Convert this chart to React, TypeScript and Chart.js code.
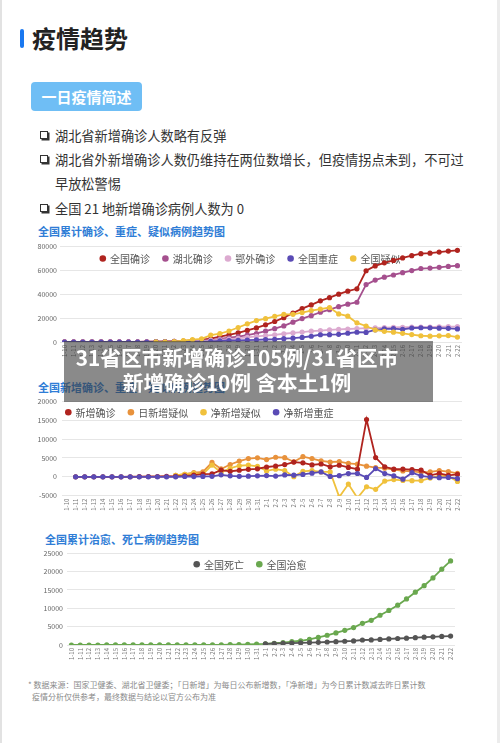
import React, { useEffect, useRef } from 'react';
import { Chart, registerables } from 'chart.js';

Chart.register(...registerables);

const FONT = '"Noto Sans CJK SC", "Noto Sans", sans-serif';

// ---------- data ----------
const dates = [
  '1-10', '1-11', '1-12', '1-13', '1-14', '1-15', '1-16', '1-17', '1-18', '1-19', '1-20',
  '1-21', '1-22', '1-23', '1-24', '1-25', '1-26', '1-27', '1-28', '1-29', '1-30', '1-31',
  '2-1', '2-2', '2-3', '2-4', '2-5', '2-6', '2-7', '2-8', '2-9', '2-10', '2-11',
  '2-12', '2-13', '2-14', '2-15', '2-16', '2-17', '2-18', '2-19', '2-20', '2-21', '2-22',
];

// chart 1: cumulative
const totalConfirmed = [
  41, 41, 41, 41, 41, 41, 45, 62, 121, 198, 291,
  440, 571, 830, 1287, 1975, 2744, 4515, 5974, 7711, 9692, 11791,
  14380, 17205, 20438, 24324, 28018, 31161, 34546, 37198, 40171, 42638, 44653,
  59804, 63851, 66492, 68500, 70548, 72436, 74185, 74576, 75465, 76288, 76936,
];
const hubeiConfirmed = [
  41, 41, 41, 41, 41, 41, 45, 62, 121, 198, 270,
  375, 444, 549, 729, 1052, 1423, 2714, 3554, 4586, 5806, 7153,
  9074, 11177, 13522, 16678, 19665, 22112, 24953, 27100, 29631, 31728, 33366,
  48206, 51986, 54406, 56249, 58182, 59989, 61682, 62031, 62662, 63454, 64084,
];
const outsideHubeiConfirmed = [
  0, 0, 0, 0, 0, 0, 0, 0, 0, 0, 21,
  65, 127, 281, 558, 923, 1321, 1801, 2420, 3125, 3886, 4638,
  5306, 6028, 6916, 7646, 8353, 9049, 9593, 10098, 10540, 10910, 11287,
  11598, 11865, 12086, 12251, 12366, 12447, 12503, 12545, 12803, 12834, 12852,
];
const totalSevere = [
  0, 0, 0, 0, 0, 0, 0, 0, 0, 0, 35,
  63, 95, 177, 237, 324, 461, 976, 1239, 1370, 1527, 1795,
  2110, 2296, 2788, 3219, 3859, 4821, 6101, 6188, 6484, 7333, 8204,
  8030, 10204, 11053, 11272, 10644, 11741, 11977, 11864, 11633, 11477, 10968,
];
const totalSuspected = [
  null, null, null, null, null, null, null, null, null, null, 54,
  37, 393, 1072, 1965, 2684, 5794, 6973, 9239, 12167, 15238, 17988,
  19544, 21558, 23214, 23260, 24702, 26359, 27657, 28942, 23589, 21675, 16067,
  13435, 10109, 8969, 8228, 7264, 6242, 5248, 4922, 5206, 5365, 4148,
];

// chart 2: daily
const newConfirmed = [
  null, 0, 0, 0, 0, 0, 4, 17, 59, 77, 77,
  149, 131, 259, 444, 688, 769, 1771, 1459, 1737, 1982, 2102,
  2590, 2829, 3235, 3887, 3694, 3143, 3385, 2652, 3062, 2478, 2015,
  15152, 5090, 2641, 2009, 2048, 1886, 1749, 394, 889, 397, 648,
];
const newSuspectedDaily = [
  null, null, null, null, null, null, null, null, null, null, null,
  null, 393, 680, 1118, 1309, 3806, 2077, 3248, 4148, 4812, 5019,
  4562, 5173, 5072, 3971, 5328, 4833, 4214, 3916, 4008, 3536, 3342,
  2807, 2450, 2277, 1918, 1563, 1432, 1185, 1277, 1614, 1361, 882,
];
const netSuspected = [
  null, null, null, null, null, null, null, null, null, null, null,
  null, 356, 679, 893, 719, 3110, 1179, 2266, 2928, 3071, 2750,
  1556, 2014, 1656, 46, 1442, 1657, 1298, 1285, -5353, -1914, -5608,
  -2632, -3326, -1140, -741, -964, -1022, -994, -326, 284, 159, -1217,
];
const netSevere = [
  null, 0, 0, 0, 0, 0, 0, 0, 0, 0, 0,
  0, 0, 82, 60, 87, 137, 515, 263, 131, 157, 268,
  315, 186, 492, 431, 640, 962, 1280, 87, 296, 849, 871,
  -174, 2174, 849, 219, -628, 1097, 236, -113, -231, -156, -509,
];

// chart 3: cured / deaths
const totalDeaths = [
  null, null, null, null, null, null, null, null, null, null, null,
  null, null, null, null, null, null, null, null, null, null, null,
  304, 361, 425, 490, 563, 636, 722, 811, 908, 1016, 1113,
  1367, 1380, 1523, 1665, 1770, 1868, 2004, 2118, 2236, 2345, 2442,
];
const totalCured = [
  2, 3, 6, 6, 7, 12, 15, 19, 24, 25, 25,
  28, 28, 34, 38, 49, 51, 60, 103, 124, 171, 243,
  328, 475, 632, 892, 1153, 1540, 2050, 2649, 3281, 3996, 4740,
  5911, 6723, 8096, 9419, 10844, 12552, 14376, 16155, 18264, 20659, 22888,
];

const bullets = [
  '湖北省新增确诊人数略有反弹',
  '湖北省外新增确诊人数仍维持在两位数增长，但疫情拐点未到，不可过',
  '早放松警惕',
  '全国 21 地新增确诊病例人数为 0',
];

// ---------- legend plugin (drawn inside the plot area) ----------
const dotLegend = {
  id: 'dotLegend',
  beforeDatasetsDraw(chart: any, _args: any, opts: any) {
    if (!opts || !opts.show) return;
    const ctx = chart.ctx;
    ctx.save();
    ctx.font = `${opts.fontSize}px ${FONT}`;
    const r = opts.radius;
    const items = chart.data.datasets.map((ds: any) => ({ label: ds.label, color: ds.borderColor }));
    const widths = items.map((it: any) => 2 * r + opts.textGap + ctx.measureText(it.label).width);
    const total = widths.reduce((a: number, b: number) => a + b, 0) + opts.itemGap * (items.length - 1);
    let x = opts.align === 'center' ? opts.centerX - total / 2 : opts.startX;
    items.forEach((it: any, i: number) => {
      ctx.fillStyle = it.color;
      ctx.beginPath();
      ctx.arc(x + r, opts.y, r, 0, Math.PI * 2);
      ctx.fill();
      ctx.fillStyle = opts.color;
      ctx.textAlign = 'left';
      ctx.textBaseline = 'middle';
      ctx.fillText(it.label, x + 2 * r + opts.textGap, opts.y + 0.5);
      x += widths[i] + opts.itemGap;
    });
    ctx.restore();
  },
};

function line(label: string, data: any[], color: string, order: number) {
  return {
    label,
    data,
    borderColor: color,
    backgroundColor: color,
    pointBackgroundColor: color,
    pointBorderColor: color,
    pointRadius: 1.7,
    pointHoverRadius: 1.7,
    borderWidth: 1.8,
    tension: 0,
    spanGaps: false,
    order,
  };
}

type Cfg = {
  datasets: any[];
  min: number;
  max: number;
  step: number;
  yWidth: number;
  yPad: number;
  xHeight: number;
  padTop: number;
  padRight: number;
  legend: any;
};

function makeConfig(c: Cfg): any {
  return {
    type: 'line',
    data: { labels: dates, datasets: c.datasets },
    plugins: [dotLegend],
    options: {
      responsive: false,
      animation: false,
      events: [],
      layout: { padding: { top: c.padTop, right: c.padRight, left: 0, bottom: 0 } },
      plugins: {
        legend: { display: false },
        tooltip: { enabled: false },
        dotLegend: c.legend,
      },
      scales: {
        x: {
          offset: true,
          grid: { display: false, drawTicks: false },
          border: { display: false },
          ticks: {
            autoSkip: false,
            minRotation: 90,
            maxRotation: 90,
            padding: 3,
            color: '#777',
            font: { size: 6, family: FONT },
          },
          afterFit: (s: any) => { s.height = c.xHeight; },
        },
        y: {
          min: c.min,
          max: c.max,
          grid: { color: '#e6e6e6', lineWidth: 1, drawTicks: false },
          border: { display: false },
          ticks: {
            stepSize: c.step,
            padding: c.yPad,
            color: '#666',
            font: { size: 7, family: FONT },
            callback: (v: any) => String(v),
          },
          afterFit: (s: any) => { s.width = c.yWidth; },
        },
      },
    },
  };
}

function ChartCanvas(props: { left: number; top: number; width: number; height: number; cfg: Cfg }) {
  const ref = useRef<HTMLCanvasElement | null>(null);
  useEffect(() => {
    if (!ref.current) return;
    const chart = new Chart(ref.current, makeConfig(props.cfg));
    return () => chart.destroy();
  }, []);
  return (
    <canvas
      ref={ref}
      width={props.width}
      height={props.height}
      style={{ position: 'absolute', left: props.left, top: props.top, width: props.width, height: props.height }}
    />
  );
}

const legendBase = { show: true, fontSize: 10, radius: 3.3, textGap: 4, itemGap: 12, color: '#555' };

const chart1: Cfg = {
  datasets: [
    line('全国确诊', totalConfirmed, '#b0241f', 4),
    line('湖北确诊', hubeiConfirmed, '#a5508e', 3),
    line('鄂外确诊', outsideHubeiConfirmed, '#dcaad0', 2),
    line('全国重症', totalSevere, '#5a4bb5', 1),
    line('全国疑似', totalSuspected, '#f0c13c', 0),
  ],
  min: 0, max: 80000, step: 20000,
  yWidth: 40, yPad: 3, xHeight: 23, padTop: 8.7, padRight: 10,
  legend: { ...legendBase, align: 'center', centerX: 230, y: 20.5 },
};

const chart2: Cfg = {
  datasets: [
    line('新增确诊', newConfirmed, '#b0241f', 1),
    line('日新增疑似', newSuspectedDaily, '#e8923c', 3),
    line('净新增疑似', netSuspected, '#f0c13c', 2),
    line('净新增重症', netSevere, '#5a4bb5', 0),
  ],
  min: -5000, max: 20000, step: 5000,
  yWidth: 42, yPad: 5, xHeight: 24.3, padTop: 8.3, padRight: 10,
  legend: { ...legendBase, align: 'start', startX: 45, y: 20.3 },
};

const chart3: Cfg = {
  datasets: [
    line('全国死亡', totalDeaths, '#555555', 0),
    line('全国治愈', totalCured, '#6aa84f', 1),
  ],
  min: 0, max: 25000, step: 5000,
  yWidth: 47, yPad: 4, xHeight: 23, padTop: 7.7, padRight: 17,
  legend: { ...legendBase, align: 'center', centerX: 230, y: 19.3 },
};

const abs = (left: number, top: number, extra: any = {}) => ({ position: 'absolute' as const, left, top, ...extra });

function Checkbox({ top }: { top: number }) {
  return (
    <div
      style={abs(40, top, {
        width: 6,
        height: 6,
        border: '1px solid #333',
        boxShadow: '1.5px 1.5px 0 #333',
        background: '#fff',
      })}
    />
  );
}

export default function App() {
  const chartTitle = { fontSize: 11, fontWeight: 700, color: '#2f7dd6', lineHeight: '14px', whiteSpace: 'nowrap' as const };
  const bulletText = { fontSize: 13.2, color: '#333', lineHeight: '16px', whiteSpace: 'nowrap' as const };
  return (
    <div
      style={{
        position: 'absolute', left: 0, top: 0, width: 500, height: 743,
        background: '#fff', overflow: 'hidden', fontFamily: FONT,
      }}
    >
      <div style={abs(0, 0, { width: 2, height: 743, background: '#e2e2e2' })} />
      <div style={abs(497, 0, { width: 3, height: 743, background: '#ececec' })} />

      {/* heading */}
      <div style={abs(20, 29, { width: 4, height: 19, borderRadius: 2, background: '#1a78f0' })} />
      <div style={abs(32, 25.5, { fontSize: 24, fontWeight: 700, color: '#222', lineHeight: '24px' })}>疫情趋势</div>

      {/* pill */}
      <div
        style={abs(31, 82, {
          width: 111, height: 29, borderRadius: 4, background: '#6fbef5',
          color: '#fff', fontSize: 15, fontWeight: 700, lineHeight: '29px', textAlign: 'center',
        })}
      >
        一日疫情简述
      </div>

      {/* bullets */}
      <Checkbox top={131} />
      <div style={abs(55, 128, bulletText)}>{bullets[0]}</div>
      <Checkbox top={155} />
      <div style={abs(55, 152, bulletText)}>{bullets[1]}</div>
      <div style={abs(55, 176, bulletText)}>{bullets[2]}</div>
      <Checkbox top={204} />
      <div style={abs(55, 201, bulletText)}>{bullets[3]}</div>

      {/* chart titles */}
      <div style={abs(38, 224, chartTitle)}>全国累计确诊、重症、疑似病例趋势图</div>
      <div style={abs(38, 379.5, chartTitle)}>全国新增确诊、重症、疑似病例趋势图</div>
      <div style={abs(45, 532, chartTitle)}>全国累计治愈、死亡病例趋势图</div>

      <ChartCanvas left={20} top={238} width={452} height={127} cfg={chart1} />
      <ChartCanvas left={20} top={392} width={452} height={128} cfg={chart2} />
      <ChartCanvas left={20} top={545} width={452} height={123} cfg={chart3} />

      {/* banner */}
      <div style={abs(64, 341, { width: 369, height: 61, background: 'rgba(60,60,60,0.6)' })} />
      <div
        style={abs(64, 344.5, {
          width: 346, color: '#fff', fontSize: 20.8, fontWeight: 700, lineHeight: '25px',
          textAlign: 'center', whiteSpace: 'nowrap',
        })}
      >
        <div>31省区市新增确诊105例/31省区市</div>
        <div>新增确诊10例 含本土1例</div>
      </div>

      {/* footnote */}
      <div style={abs(28, 679, { fontSize: 8, color: '#8a8a8a', lineHeight: '12px', whiteSpace: 'nowrap' })}>
        <div>* 数据来源：国家卫健委、湖北省卫健委；「日新增」为每日公布新增数，「净新增」为今日累计数减去昨日累计数</div>
        <div style={{ paddingLeft: 4 }}>疫情分析仅供参考，最终数据与结论以官方公布为准</div>
      </div>
    </div>
  );
}
